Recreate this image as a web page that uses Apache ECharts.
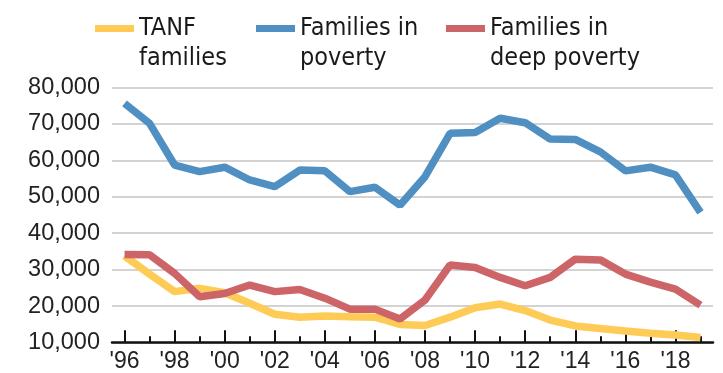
<!DOCTYPE html>
<html>
<head>
<meta charset="utf-8">
<script src="https://cdn.jsdelivr.net/npm/echarts@6/dist/echarts.min.js"></script>
<style>
  html, body { margin: 0; padding: 0; background: #fff; }
  #chart { width: 723px; height: 373px; }
</style>
</head>
<body>
<div id="chart"></div>
<script>
// Years on the x axis and the labels shown under the even years
const years = ['1996','1997','1998','1999','2000','2001','2002','2003','2004','2005','2006','2007',
               '2008','2009','2010','2011','2012','2013','2014','2015','2016','2017','2018','2019'];
const yearLabels = ["'96","'97","'98","'99","'00","'01","'02","'03","'04","'05","'06","'07",
                    "'08","'09","'10","'11","'12","'13","'14","'15","'16","'17","'18","'19"];

// Number of families per year
const tanfFamilies = [33800, 28800, 24000, 24900, 23700, 20800, 17800, 17000, 17300, 17100, 17000, 15000,
                      14700, 17000, 19600, 20600, 18800, 16200, 14600, 13900, 13200, 12600, 12100, 11400];
const familiesInPoverty = [75600, 70100, 58700, 56900, 58100, 54600, 52800, 57300, 57100, 51400, 52600, 47700,
                           55500, 67400, 67600, 71500, 70300, 65800, 65700, 62300, 57100, 58100, 56000, 45700];
const familiesInDeepPoverty = [34200, 34100, 29000, 22600, 23500, 25800, 24000, 24600, 22200, 19200, 19200, 16500,
                               21700, 31300, 30600, 27900, 25600, 27900, 32900, 32700, 28800, 26600, 24700, 20300];

const seriesNames = ['TANF\nfamilies', 'Families in\npoverty', 'Families in\ndeep poverty'];
const seriesColors = ['#fecb57', '#4f8fc1', '#cd6468'];

const legendFont = "'Liberation Sans Narrow', 'DejaVu Sans Condensed', 'Roboto', sans-serif";
const axisFont = "'Liberation Sans', Arial, sans-serif";

// One legend per series so each entry sits at its own x position.
// A leading blank line lines the swatch up with the first text line.
function legendAt(name, left) {
  return {
    data: [name],
    left: left,
    top: -16.5,
    padding: 0,
    orient: 'horizontal',
    icon: 'rect',
    itemWidth: 39,
    itemHeight: 7,
    selectedMode: false,
    formatter: function (n) { return '\n' + n; },
    textStyle: {
      fontFamily: legendFont,
      fontSize: 25,
      color: '#1a1a1a',
      lineHeight: 30
    }
  };
}

const chart = echarts.init(document.getElementById('chart'), null, { renderer: 'canvas' });

chart.setOption({
  animation: false,
  backgroundColor: '#ffffff',
  color: seriesColors,
  legend: [
    legendAt(seriesNames[0], 95),
    legendAt(seriesNames[1], 256),
    legendAt(seriesNames[2], 446)
  ],
  grid: { left: 112, right: 10, top: 87.3, bottom: 30.3, containLabel: false },
  xAxis: [
    {
      type: 'category',
      data: years,
      boundaryGap: true,
      position: 'bottom',
      axisLine: { show: true, lineStyle: { color: '#111', width: 2.5 } },
      axisTick: {
        show: true, inside: true, length: 12.5, alignWithLabel: true,
        interval: function (i) { return i % 2 === 0; },
        lineStyle: { color: '#111', width: 2 }
      },
      axisLabel: {
        show: true,
        interval: function (i) { return i % 2 === 0; },
        formatter: function (v, i) { return yearLabels[i]; },
        fontFamily: axisFont, fontSize: 23, color: '#222', margin: 7
      },
      splitLine: { show: false }
    },
    {
      type: 'category',
      data: years,
      boundaryGap: true,
      position: 'bottom',
      axisLine: { show: false },
      axisTick: {
        show: true, inside: true, length: 6.5, alignWithLabel: true,
        interval: function (i) { return i % 2 === 1; },
        lineStyle: { color: '#111', width: 2 }
      },
      axisLabel: { show: false },
      splitLine: { show: false }
    }
  ],
  yAxis: {
    type: 'value',
    min: 10000,
    max: 80000,
    interval: 10000,
    axisLine: { show: false },
    axisTick: { show: false },
    axisLabel: {
      formatter: function (v) { return v.toLocaleString('en-US'); },
      fontFamily: axisFont, fontSize: 23.5, color: '#222', margin: 12
    },
    splitLine: { show: true, lineStyle: { color: '#c4c4c4', width: 1.6 } }
  },
  series: [
    {
      name: seriesNames[0], type: 'line', data: tanfFamilies,
      symbol: 'none', lineStyle: { width: 7.5, color: seriesColors[0] }, z: 3
    },
    {
      name: seriesNames[1], type: 'line', data: familiesInPoverty,
      symbol: 'none', lineStyle: { width: 7.5, color: seriesColors[1] }, z: 3
    },
    {
      name: seriesNames[2], type: 'line', data: familiesInDeepPoverty,
      symbol: 'none', lineStyle: { width: 7.5, color: seriesColors[2] }, z: 3
    }
  ]
});
</script>
</body>
</html>
